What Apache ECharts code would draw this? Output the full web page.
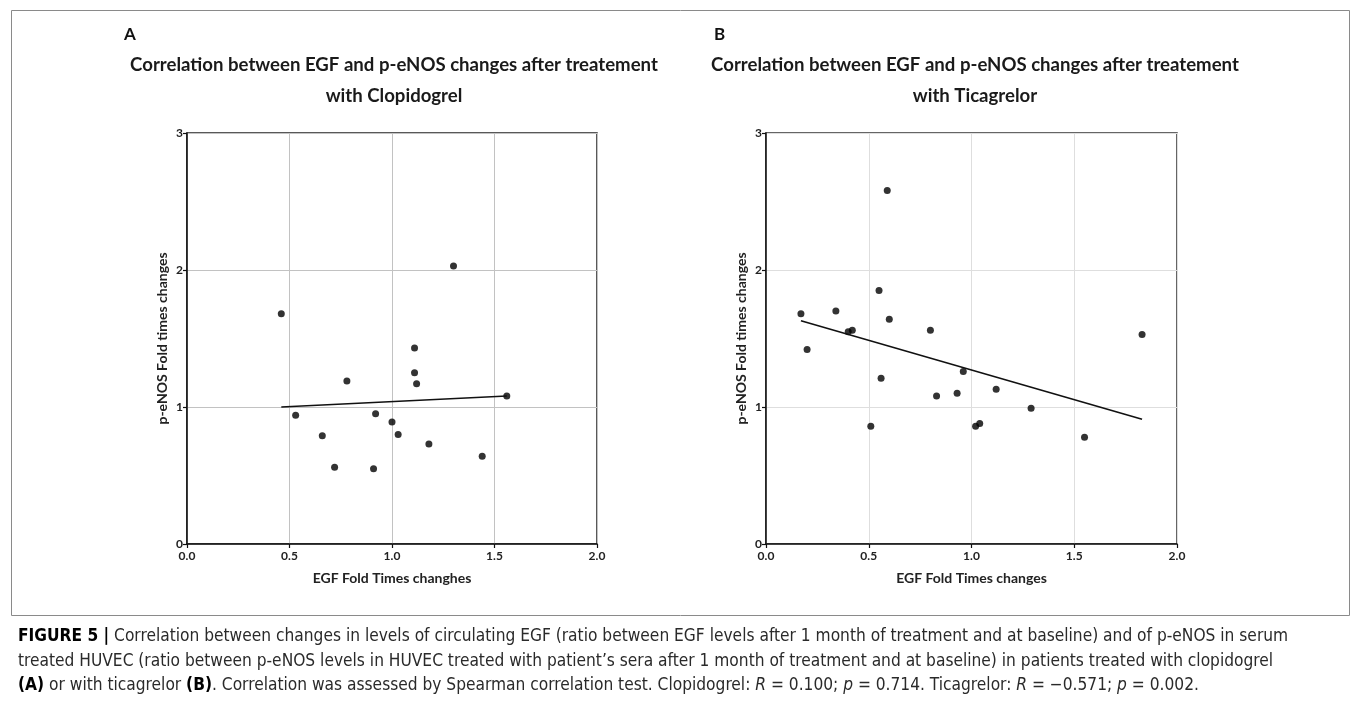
<!DOCTYPE html>
<html>
<head>
<meta charset="utf-8">
<script src="https://cdn.jsdelivr.net/npm/echarts@6/dist/echarts.min.js"></script>
<style>
html,body{margin:0;padding:0;background:#fff;}
#c{width:1357px;height:704px;}
</style>
</head>
<body>
<div id="c"></div>
<script>
// ---- data ----
const clopidogrelEGF  = [0.46,0.53,0.66,0.72,0.78,0.92,0.91,1.00,1.03,1.11,1.11,1.12,1.18,1.30,1.44,1.56];
const clopidogrelENOS = [1.68,0.94,0.79,0.56,1.19,0.95,0.55,0.89,0.80,1.25,1.43,1.17,0.73,2.03,0.64,1.08];
const ticagrelorEGF   = [0.17,0.20,0.34,0.40,0.42,0.51,0.55,0.56,0.59,0.60,0.80,0.83,0.93,0.96,1.02,1.04,1.12,1.29,1.55,1.83];
const ticagrelorENOS  = [1.68,1.42,1.70,1.55,1.56,0.86,1.85,1.21,2.58,1.64,1.56,1.08,1.10,1.26,0.86,0.88,1.13,0.99,0.78,1.53];
const fitAX = [0.46, 1.56];
const fitAY = [1.00, 1.08];
const fitBX = [0.17, 1.83];
const fitBY = [1.63, 0.91];
const xTicks = [0, 0.5, 1.0, 1.5, 2.0];
const yTicks = [0, 1, 2, 3];
const panelLabels = ['A', 'B'];
const titlesText = [
  'Correlation between EGF and p-eNOS changes after treatement\nwith Clopidogrel',
  'Correlation between EGF and p-eNOS changes after treatement\nwith Ticagrelor'
];
const xNames = ['EGF Fold Times changhes', 'EGF Fold Times changes'];
const yName = 'p-eNOS Fold times changes';
const captionLines = [
  '{b|FIGURE 5 |} Correlation between changes in levels of circulating EGF (ratio between EGF levels after 1 month of treatment and at baseline) and of p-eNOS in serum',
  'treated HUVEC (ratio between p-eNOS levels in HUVEC treated with patient\u2019s sera after 1 month of treatment and at baseline) in patients treated with clopidogrel',
  '{b|(A)} or with ticagrelor {b|(B)}. Correlation was assessed by Spearman correlation test. Clopidogrel: {i|R} = 0.100; {i|p} = 0.714. Ticagrelor: {i|R} = \u22120.571; {i|p} = 0.002.'
];

const zip = (a, b) => a.map((v, i) => [v, b[i]]);

const chart = echarts.init(document.getElementById('c'), null, {renderer: 'canvas'});
const F = 'Lato, "Open Sans", sans-serif';
const CF = '"Liberation Sans Narrow", "DejaVu Sans Condensed", sans-serif';
const gridColors = ['#c2c2c2', '#dedede'];

function xAxis(i) {
  return {
    gridIndex: i, type: 'value', min: xTicks[0], max: xTicks[xTicks.length - 1], interval: 0.5,
    name: xNames[i], nameLocation: 'middle', nameGap: 27,
    nameTextStyle: {fontFamily: F, fontWeight: 'bold', fontSize: 14, color: '#222'},
    axisLine: {show: true, onZero: false, lineStyle: {color: '#111', width: 1.5}},
    axisTick: {show: true, length: 4, lineStyle: {color: '#111', width: 1.2}},
    axisLabel: {fontFamily: F, fontWeight: 'bold', fontSize: 12, color: '#222', margin: 6,
      formatter: v => v.toFixed(1)},
    splitLine: {show: true, lineStyle: {color: gridColors[i], width: 1}}
  };
}
function yAxis(i) {
  return {
    gridIndex: i, type: 'value', min: yTicks[0], max: yTicks[yTicks.length - 1], interval: 1,
    name: yName, nameLocation: 'middle', nameGap: 18,
    nameTextStyle: {fontFamily: F, fontWeight: 'bold', fontSize: 14, color: '#222'},
    axisLine: {show: true, onZero: false, lineStyle: {color: '#111', width: 1.5}},
    axisTick: {show: true, length: 4, lineStyle: {color: '#111', width: 1.2}},
    axisLabel: {fontFamily: F, fontWeight: 'bold', fontSize: 12, color: '#222', margin: 4},
    splitLine: {show: true, lineStyle: {color: gridColors[i], width: 1}}
  };
}

const option = {
  backgroundColor: '#fff',
  animation: false,
  title: [
    {text: panelLabels[0], left: 119, top: 21, textStyle: {fontFamily: F, fontWeight: 'bold', fontSize: 17, color: '#111'}},
    {text: panelLabels[1], left: 709, top: 21, textStyle: {fontFamily: F, fontWeight: 'bold', fontSize: 17, color: '#111'}},
    {text: titlesText[0], left: 389, top: 44, textAlign: 'center',
      textStyle: {fontFamily: F, fontWeight: 'bold', fontSize: 18.6, lineHeight: 31, color: '#1a1a1a'}},
    {text: titlesText[1], left: 970, top: 44, textAlign: 'center',
      textStyle: {fontFamily: F, fontWeight: 'bold', fontSize: 18.6, lineHeight: 31, color: '#1a1a1a'}}
  ],
  grid: [
    {left: 187, top: 133, width: 410, height: 411, show: true, borderColor: '#222', borderWidth: 1.5, backgroundColor: 'transparent'},
    {left: 766, top: 133, width: 411, height: 411, show: true, borderColor: '#333', borderWidth: 1.5, backgroundColor: 'transparent'}
  ],
  xAxis: [xAxis(0), xAxis(1)],
  yAxis: [yAxis(0), yAxis(1)],
  series: [
    {type: 'scatter', xAxisIndex: 0, yAxisIndex: 0, data: zip(clopidogrelEGF, clopidogrelENOS),
      symbol: 'circle', symbolSize: 7, itemStyle: {color: '#000'}},
    {type: 'line', xAxisIndex: 0, yAxisIndex: 0, data: zip(fitAX, fitAY), symbol: 'none',
      lineStyle: {color: '#111', width: 1.6}},
    {type: 'scatter', xAxisIndex: 1, yAxisIndex: 1, data: zip(ticagrelorEGF, ticagrelorENOS),
      symbol: 'circle', symbolSize: 7, itemStyle: {color: '#000'}},
    {type: 'line', xAxisIndex: 1, yAxisIndex: 1, data: zip(fitBX, fitBY), symbol: 'none',
      lineStyle: {color: '#111', width: 1.6}}
  ],
  graphic: [
    {type: 'rect', left: 9, top: 8, shape: {x: 0, y: 0, width: 1338, height: 605},
      style: {fill: 'none', stroke: '#8a8a8a', lineWidth: 1}, silent: true},
  ].concat(captionLines.map((t, i) => ({
    type: 'text', x: 18, y: 637 + i * 24.5, silent: true,
    style: {
      text: t, fill: '#2a2a2a',
      fontFamily: CF, fontSize: 17.2,
      verticalAlign: 'middle', align: 'left',
      rich: {
        b: {fontWeight: 'bold', fill: '#000', fontFamily: CF, fontSize: 17.2},
        i: {fontStyle: 'italic', fill: '#2a2a2a', fontFamily: CF, fontSize: 17.2}
      }
    }
  })))
};
chart.setOption(option);
</script>
</body>
</html>
